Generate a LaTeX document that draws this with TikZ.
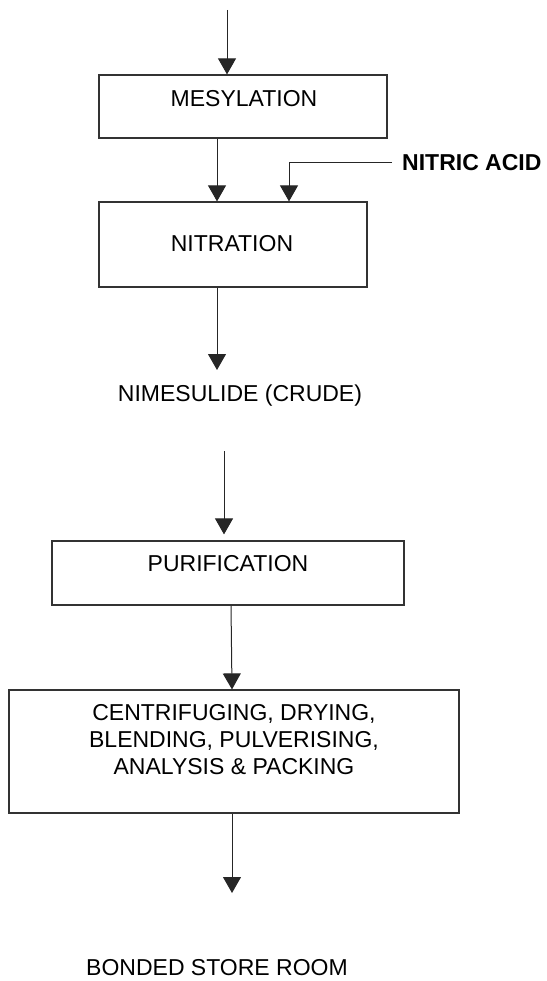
\documentclass[tikz,border=0pt]{standalone}
\usepackage{fontspec}
\setmainfont{Liberation Sans}
\usetikzlibrary{arrows.meta}

\begin{document}
\begin{tikzpicture}[x=1pt, y=-1pt,
    >={Triangle[width=18pt, length=16pt]},
    stage/.style={draw=black!80, line width=1.2pt, inner sep=0pt},
    lbl/.style={inner sep=0pt, font=\fontsize{23}{27}\selectfont},
    flow/.style={draw=black!85, line width=1pt, ->},
  ]
  \useasboundingbox (0,0) rectangle (546,981);

  \coordinate (in) at (227,10);
  \coordinate (acid) at (392,163);
  \coordinate (crudein) at (217,370);
  \coordinate (purin) at (224,451);
  \coordinate (storein) at (232,893);

  % process boxes
  \node[stage, minimum width=288pt, minimum height=63pt] (mes) at (243,106.5) {};
  \node[stage, minimum width=268pt, minimum height=85pt] (nit) at (233,244.5) {};
  \node[stage, minimum width=352pt, minimum height=64pt] (pur) at (228,573) {};
  \node[stage, minimum width=450pt, minimum height=123pt] (pk) at (234,751.5) {};

  \node[lbl, anchor=base] (tmes) at (244,106.3) {MESYLATION};
  \node[lbl, anchor=base] (tnit) at (232,251.3) {NITRATION};
  \node[lbl, anchor=base west, font=\fontsize{23}{27}\selectfont\bfseries] (tacid) at (402,170.3) {NITRIC ACID};
  \node[lbl, anchor=base] (crude) at (240,401.3) {NIMESULIDE (CRUDE)};
  \node[lbl, anchor=base] (tpur) at (228,571.3) {PURIFICATION};
  \node[lbl, anchor=north, align=center] (tpk) at (234,704.6)
    {CENTRIFUGING, DRYING,\\BLENDING, PULVERISING,\\ANALYSIS \& PACKING};
  \node[lbl, anchor=base] (store) at (217,975.5) {BONDED STORE ROOM};

  % flow
  \draw[flow] (in) -- (in |- mes.north);
  \draw[flow] ([xshift=-26pt]mes.south) -- ([xshift=-16pt]nit.north);
  \draw[flow] (acid) -| ([xshift=56pt]nit.north);
  \draw[flow] ([xshift=-16pt]nit.south) -- (crudein);
  \draw[flow, shorten >=6pt] (purin) -- (purin |- pur.north);
  \draw[flow] ([xshift=3pt]pur.south) -- ([xshift=-2pt]pk.north);
  \draw[flow] (storein |- pk.south) -- (storein);
\end{tikzpicture}
\end{document}
